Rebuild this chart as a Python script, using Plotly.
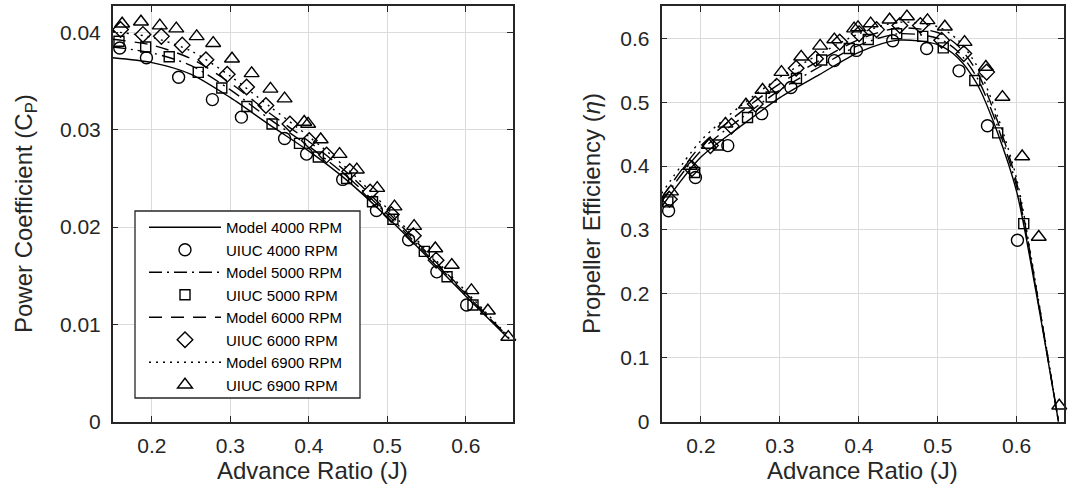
import plotly.graph_objects as go

# ---------------- data ----------------
# Model curves, power coefficient
J_model_cp = [0.15, 0.20, 0.25, 0.30, 0.35, 0.40, 0.45, 0.50, 0.55, 0.60, 0.655]
cp_model_4000 = [0.0374, 0.0369, 0.0357, 0.0333, 0.0305, 0.0278, 0.0247, 0.0210, 0.0170, 0.0129, 0.0085]
cp_model_5000 = [0.0385, 0.0379, 0.0366, 0.0341, 0.0311, 0.0283, 0.0251, 0.0213, 0.0172, 0.0131, 0.0086]
cp_model_6000 = [0.0393, 0.0387, 0.0373, 0.0348, 0.0317, 0.0288, 0.0255, 0.0216, 0.0174, 0.0132, 0.0086]
cp_model_6900 = [0.0401, 0.0395, 0.0381, 0.0355, 0.0324, 0.0293, 0.0259, 0.0219, 0.0176, 0.0134, 0.0087]

# Model curves, propeller efficiency
J_model_eta = [0.15, 0.20, 0.25, 0.30, 0.35, 0.40, 0.45, 0.50, 0.525, 0.55, 0.575, 0.60, 0.625, 0.653]
eta_model_4000 = [0.336, 0.414, 0.462, 0.507, 0.543, 0.578, 0.597, 0.590, 0.570, 0.528, 0.455, 0.360, 0.200, 0.0]
eta_model_5000 = [0.344, 0.424, 0.474, 0.519, 0.555, 0.589, 0.607, 0.600, 0.580, 0.538, 0.465, 0.368, 0.204, 0.0]
eta_model_6000 = [0.350, 0.432, 0.484, 0.529, 0.565, 0.598, 0.616, 0.609, 0.589, 0.547, 0.473, 0.374, 0.207, 0.0]
eta_model_6900 = [0.357, 0.440, 0.494, 0.539, 0.575, 0.607, 0.625, 0.618, 0.598, 0.556, 0.481, 0.380, 0.210, 0.0]

# UIUC measurements
J_uiuc_4000 = [0.159, 0.193, 0.234, 0.277, 0.314, 0.369, 0.397, 0.443, 0.486, 0.527, 0.563, 0.601]
cp_uiuc_4000 = [0.0384, 0.0374, 0.0354, 0.0331, 0.0313, 0.0291, 0.0275, 0.0249, 0.0217, 0.0187, 0.0154, 0.0120]
eta_uiuc_4000 = [0.330, 0.382, 0.432, 0.482, 0.523, 0.565, 0.581, 0.596, 0.584, 0.549, 0.463, 0.284]

J_uiuc_5000 = [0.158, 0.192, 0.222, 0.259, 0.289, 0.321, 0.353, 0.388, 0.412, 0.448, 0.481, 0.507, 0.547, 0.576, 0.609]
cp_uiuc_5000 = [0.0391, 0.0385, 0.0375, 0.0359, 0.0343, 0.0324, 0.0306, 0.0286, 0.0272, 0.0250, 0.0226, 0.0208, 0.0175, 0.0149, 0.0120]
eta_uiuc_5000 = [0.344, 0.390, 0.433, 0.476, 0.508, 0.537, 0.566, 0.584, 0.598, 0.607, 0.603, 0.585, 0.534, 0.452, 0.310]

J_uiuc_6000 = [0.160, 0.1885, 0.212, 0.2386, 0.2688, 0.2959, 0.3206, 0.3452, 0.3758, 0.4004, 0.4225, 0.452, 0.478, 0.505, 0.533, 0.562]
cp_uiuc_6000 = [0.0403, 0.0398, 0.0396, 0.0387, 0.0372, 0.0357, 0.0344, 0.0325, 0.0306, 0.0289, 0.0274, 0.0257, 0.0236, 0.0213, 0.0191, 0.0166]
eta_uiuc_6000 = [0.348, 0.396, 0.432, 0.4625, 0.497, 0.525, 0.553, 0.568, 0.594, 0.607, 0.6135, 0.620, 0.620, 0.597, 0.576, 0.547]

J_uiuc_6900 = [0.162, 0.186, 0.210, 0.231, 0.257, 0.278, 0.302, 0.327, 0.351, 0.369, 0.394, 0.399, 0.415,
               0.439, 0.461, 0.487, 0.509, 0.534, 0.561, 0.582, 0.607, 0.628, 0.654]
cp_uiuc_6900 = [0.0409, 0.0411, 0.0407, 0.0404, 0.0396, 0.0389, 0.0373, 0.0358, 0.0342, 0.0332, 0.0308, 0.0306, 0.0290,
                0.0275, 0.0259, 0.0240, 0.0221, 0.0201, 0.0178, 0.0161, 0.0135, 0.0114, 0.0087]
eta_uiuc_6900 = [0.360, 0.400, 0.433, 0.466, 0.496, 0.519, 0.547, 0.571, 0.588, 0.598, 0.615, 0.617, 0.623,
                 0.629, 0.634, 0.628, 0.618, 0.594, 0.555, 0.508, 0.415, 0.289, 0.025]

rpm_labels = ["4000", "5000", "6000", "6900"]
x_ticks = [0.2, 0.3, 0.4, 0.5, 0.6]
x_ticktext = ["0.2", "0.3", "0.4", "0.5", "0.6"]
cp_ticks = [0, 0.01, 0.02, 0.03, 0.04]
cp_ticktext = ["0", "0.01", "0.02", "0.03", "0.04"]
eta_ticks = [0, 0.1, 0.2, 0.3, 0.4, 0.5, 0.6]
eta_ticktext = ["0", "0.1", "0.2", "0.3", "0.4", "0.5", "0.6"]

# ---------------- styles ----------------
W, H = 1072, 501
FONT = "Liberation Sans, Arial, Helvetica, sans-serif"
INK = "#262626"
GRID = "#dbdbdb"
dashes = ["solid", "13px,5px,2px,5px", "13px,9px", "2px,5px"]
symbols = ["circle-open", "square-open", "diamond-open", "triangle-up-open"]
msizes = [12, 10, 12, 13]

cp_models = [cp_model_4000, cp_model_5000, cp_model_6000, cp_model_6900]
eta_models = [eta_model_4000, eta_model_5000, eta_model_6000, eta_model_6900]
J_uiuc = [J_uiuc_4000, J_uiuc_5000, J_uiuc_6000, J_uiuc_6900]
cp_uiuc = [cp_uiuc_4000, cp_uiuc_5000, cp_uiuc_6000, cp_uiuc_6900]
eta_uiuc = [eta_uiuc_4000, eta_uiuc_5000, eta_uiuc_6000, eta_uiuc_6900]

fig = go.Figure()

for i, rpm in enumerate(rpm_labels):
    fig.add_trace(go.Scatter(
        x=J_model_cp, y=cp_models[i], mode="lines", name=f"Model {rpm} RPM",
        line=dict(color="black", width=1.4, dash=dashes[i], shape="spline", smoothing=0.8),
        xaxis="x", yaxis="y", showlegend=True))
    fig.add_trace(go.Scatter(
        x=J_uiuc[i], y=cp_uiuc[i], mode="markers", name=f"UIUC {rpm} RPM",
        marker=dict(symbol=symbols[i], size=msizes[i], color="black", line=dict(width=1.4, color="black")),
        cliponaxis=False, xaxis="x", yaxis="y", showlegend=True))

for i, rpm in enumerate(rpm_labels):
    fig.add_trace(go.Scatter(
        x=J_model_eta, y=eta_models[i], mode="lines", name=f"Model {rpm} RPM",
        line=dict(color="black", width=1.4, dash=dashes[i], shape="spline", smoothing=0.8),
        xaxis="x2", yaxis="y2", showlegend=False))
    fig.add_trace(go.Scatter(
        x=J_uiuc[i], y=eta_uiuc[i], mode="markers", name=f"UIUC {rpm} RPM",
        marker=dict(symbol=symbols[i], size=msizes[i], color="black", line=dict(width=1.4, color="black")),
        cliponaxis=False, xaxis="x2", yaxis="y2", showlegend=False))

left_x = (112.7 / W, 513 / W)
right_x = (661.5 / W, 1064 / W)
ydom = ((H - 421.7) / H, (H - 6.3) / H)

axis_common = dict(
    ticks="inside", ticklen=6, tickwidth=1.3, tickcolor=INK,
    showline=True, linecolor=INK, linewidth=1.5, mirror="ticks",
    showgrid=True, gridcolor=GRID, gridwidth=1, zeroline=False,
    tickfont=dict(family=FONT, size=21, color=INK), automargin=False,
)

fig.update_layout(
    width=W, height=H, margin=dict(l=0, r=0, t=0, b=0),
    paper_bgcolor="white", plot_bgcolor="white",
    font=dict(family=FONT, color=INK),
    xaxis=dict(domain=left_x, range=[0.15, 0.66], tickvals=x_ticks, ticktext=x_ticktext,
               anchor="y", ticklabelstandoff=4, **axis_common),
    yaxis=dict(domain=ydom, range=[0, 0.04269], tickvals=cp_ticks, ticktext=cp_ticktext,
               anchor="x", ticklabelstandoff=6, **axis_common),
    xaxis2=dict(domain=right_x, range=[0.15, 0.66], tickvals=x_ticks, ticktext=x_ticktext,
                anchor="y2", ticklabelstandoff=4, **axis_common),
    yaxis2=dict(domain=ydom, range=[0, 0.65], tickvals=eta_ticks, ticktext=eta_ticktext,
                anchor="x2", ticklabelstandoff=6, **axis_common),
    legend=dict(x=144 / W, y=(H - 211) / H, xanchor="left", yanchor="top",
                bgcolor="rgba(0,0,0,0)", borderwidth=0,
                font=dict(family=FONT, size=15, color="black"), itemwidth=72,
                tracegroupgap=0),
    showlegend=True,
    shapes=[dict(type="rect", xref="paper", yref="paper",
                 x0=135 / W, x1=360 / W, y0=(H - 398) / H, y1=(H - 211) / H,
                 line=dict(color=INK, width=1.3), fillcolor="white", layer="above")],
)

title_font = dict(family=FONT, size=24, color=INK)
fig.add_annotation(text="Advance Ratio (J)", x=(left_x[0] + left_x[1]) / 2, y=(H - 470) / H,
                   xref="paper", yref="paper", showarrow=False, font=title_font,
                   xanchor="center", yanchor="middle")
fig.add_annotation(text="Advance Ratio (J)", x=(right_x[0] + right_x[1]) / 2, y=(H - 470) / H,
                   xref="paper", yref="paper", showarrow=False, font=title_font,
                   xanchor="center", yanchor="middle")
fig.add_annotation(text="Power Coefficient (C<sub>P</sub>)", x=26 / W, y=(H - 214) / H,
                   xref="paper", yref="paper", showarrow=False, font=title_font, textangle=-90,
                   xanchor="center", yanchor="middle")
fig.add_annotation(text="Propeller Efficiency (<i>η</i>)", x=592 / W, y=(H - 214) / H,
                   xref="paper", yref="paper", showarrow=False, font=title_font, textangle=-90,
                   xanchor="center", yanchor="middle")

fig.write_html("out.html")
